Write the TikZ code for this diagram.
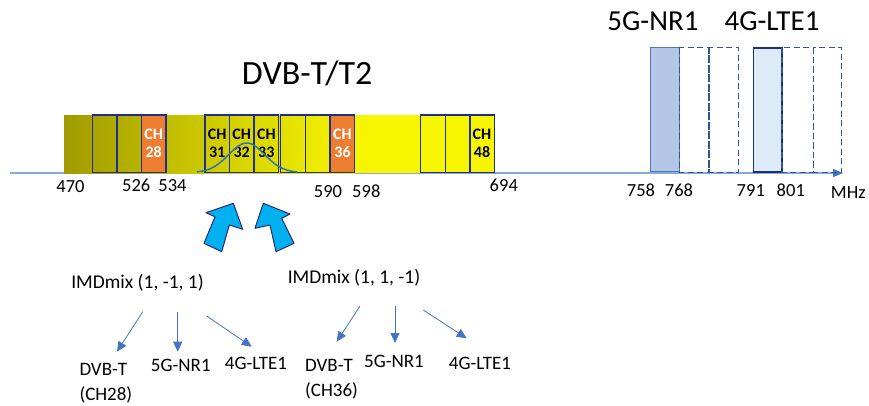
\documentclass[tikz,border=0pt]{standalone}
\usepackage{fontspec}
\setmainfont{Carlito}
\usetikzlibrary{arrows.meta}
\definecolor{navy}{HTML}{1F2D8C}
\definecolor{chorange}{HTML}{ED7D31}
\definecolor{curveblue}{HTML}{2E75B6}
\definecolor{axisline}{HTML}{86AADC}
\definecolor{axisarrow}{HTML}{4472C4}
\definecolor{dashblue}{HTML}{2F5597}
\definecolor{nrfill}{HTML}{B4C7E7}
\definecolor{nrborder}{HTML}{5573B5}
\definecolor{ltefill}{HTML}{DDEBF7}
\definecolor{lteborder}{HTML}{1F2D7A}
\definecolor{bigfill}{HTML}{00B0F0}
\definecolor{bigborder}{HTML}{2B2B6B}
\definecolor{smallblue}{HTML}{4472C4}
\definecolor{olive}{HTML}{A09B00}
\definecolor{midolive}{HTML}{CDC900}
\definecolor{dvbyellow}{HTML}{F6F600}
\tikzset{
  cell/.style={draw=navy, line width=1.3pt, minimum width=24.6pt, minimum height=57.5pt,
    inner sep=0pt, font=\bfseries\fontsize{16}{18}\selectfont, align=center},
  orangecell/.style={cell, fill=chorange, text=white},
  freq/.style={anchor=base, inner sep=0pt, font=\fontsize{18.5}{20}\selectfont},
  title/.style={anchor=base, inner sep=0pt},
  lbl/.style={inner sep=0pt, font=\fontsize{19}{25}\selectfont},
  smallarrow/.style={draw=smallblue, line width=0.8pt, -{Triangle[length=10pt,width=9pt]}},
  bigarrow/.style={fill=bigfill, draw=bigborder, line width=1pt, line join=round},
  dashbox/.style={draw=dashblue, line width=1.2pt, dash pattern=on 6pt off 3.5pt},
}
\begin{document}
\begin{tikzpicture}[x=1pt,y=-1pt]
\useasboundingbox (0,0) rectangle (869,405);
% axis
\coordinate (axL) at (10,173);
\coordinate (axR) at (843,173);
\draw[axisline, line width=1.2pt, -{Triangle[length=10pt,width=8pt,color=axisarrow]}] (axL) -- (axR);
% DVB band gradient
\fill[left color=olive, right color=midolive] (64,115) rectangle (205.5,173);
\fill[left color=midolive, right color=dvbyellow] (205,115) rectangle (355.5,173);
\fill[dvbyellow] (355,115) rectangle (494,173);
% channel cells
\node[cell] (a1) at (104.7,143.75) {};
\node[cell] (a2) at (129,143.75) {};
\node[orangecell] (ch28) at (153.65,143.75) {CH\\28};
\node[cell] (ch31) at (217.15,143.75) {CH\\31};
\node[cell] (ch32) at (241.65,143.75) {CH\\32};
\node[cell] (ch33) at (266.35,143.75) {CH\\33};
\node[cell] (c1) at (292.9,143.75) {};
\node[cell] (c2) at (317.65,143.75) {};
\node[orangecell] (ch36) at (342.5,143.75) {CH\\36};
\node[cell] (d1) at (433,143.75) {};
\node[cell] (d2) at (457.65,143.75) {};
\node[cell] (ch48) at (482,143.75) {CH\\48};
% gaussian IMD curve
\draw[curveblue, line width=1.5pt] plot[domain=197:297, samples=70, smooth]
  (\x, {172.5 - 29.5*exp(-((\x-246.7)^2)/(2*18*18))});
% 5G / 4G blocks
\node[draw=nrborder, fill=nrfill, line width=1pt, minimum width=28.6pt, minimum height=124pt, inner sep=0pt] (nr1) at (665,109.7) {};
\draw[dashbox] (679.3,47.7) rectangle (709,172.5);
\draw[dashbox] (709,47.7) rectangle (738.3,172.5);
\node[draw=lteborder, fill=ltefill, line width=1.6pt, minimum width=28.7pt, minimum height=124pt, inner sep=0pt] (lte1) at (767.65,109.7) {};
\draw[dashbox] (782,47.7) rectangle (813.3,172.5);
\draw[dashbox] (813.3,47.7) rectangle (841.7,172.5);
% titles
\node[title, font=\fontsize{34}{36}\selectfont] (dvbt) at (307.2,84.3) {DVB-T/T2};
\node[title, font=\fontsize{29}{32}\selectfont] (nrt) at (653,30) {5G-NR1};
\node[title, font=\fontsize{29}{32}\selectfont] (ltet) at (772,30) {4G-LTE1};
% frequency labels
\node[freq] (f470) at (70.5,192.7) {470};
\node[freq] (f526) at (136.3,191.7) {526};
\node[freq] (f534) at (172.5,191.7) {534};
\node[freq] (f590) at (328,197.3) {590};
\node[freq] (f598) at (366.3,197.3) {598};
\node[freq] (f694) at (503.8,191.7) {694};
\node[freq] (f758) at (641,196.7) {758};
\node[freq] (f768) at (679,196.7) {768};
\node[freq] (f791) at (750.8,196.7) {791};
\node[freq] (f801) at (790.8,196.7) {801};
\node[freq] (mhz) at (848.3,198.3) {MHz};
% big arrows
\draw[bigarrow] (233.3,203.3) -- (242.7,229.3) -- (229.3,225) -- (221.7,251.7) -- (204,243.3) -- (215,216.7) -- (206,212.7) -- cycle;
\draw[bigarrow] (263.3,203.3) -- (290,214) -- (281.7,218.3) -- (294,243.3) -- (276,251.7) -- (270,225) -- (255,228.3) -- cycle;
% IMD mix labels
\node[lbl, anchor=base, font=\fontsize{19.5}{24}\selectfont] (imd1) at (137.5,288.3) {IMDmix (1, -1, 1)};
\node[lbl, anchor=base, font=\fontsize{19.5}{24}\selectfont] (imd2) at (354,283.3) {IMDmix (1, 1, -1)};
% targets
\node[lbl, anchor=base west, align=left] (dvb1) at (79.3,400) {DVB-T\\(CH28)};
\node[lbl, anchor=base] (nr1l) at (180.8,371.7) {5G-NR1};
\node[lbl, anchor=base] (lte1l) at (256,369.3) {4G-LTE1};
\node[lbl, anchor=base west, align=left] (dvb2) at (305,396.7) {DVB-T\\(CH36)};
\node[lbl, anchor=base] (nr2l) at (394,367.3) {5G-NR1};
\node[lbl, anchor=base] (lte2l) at (480,369.3) {4G-LTE1};
% small arrows
\coordinate (s1a) at (142.7,311.7); \coordinate (e1a) at (117,351.7);
\coordinate (s1b) at (177.7,311.7); \coordinate (e1b) at (177.7,351.7);
\coordinate (s1c) at (206.7,316);   \coordinate (e1c) at (251.7,346.7);
\coordinate (s2a) at (360,306);     \coordinate (e2a) at (336.7,341.7);
\coordinate (s2b) at (395,306);     \coordinate (e2b) at (395,343);
\coordinate (s2c) at (423.3,310);   \coordinate (e2c) at (466.7,338.3);
\draw[smallarrow] (s1a) -- (e1a);
\draw[smallarrow] (s1b) -- (e1b);
\draw[smallarrow] (s1c) -- (e1c);
\draw[smallarrow] (s2a) -- (e2a);
\draw[smallarrow] (s2b) -- (e2b);
\draw[smallarrow] (s2c) -- (e2c);
\end{tikzpicture}
\end{document}
